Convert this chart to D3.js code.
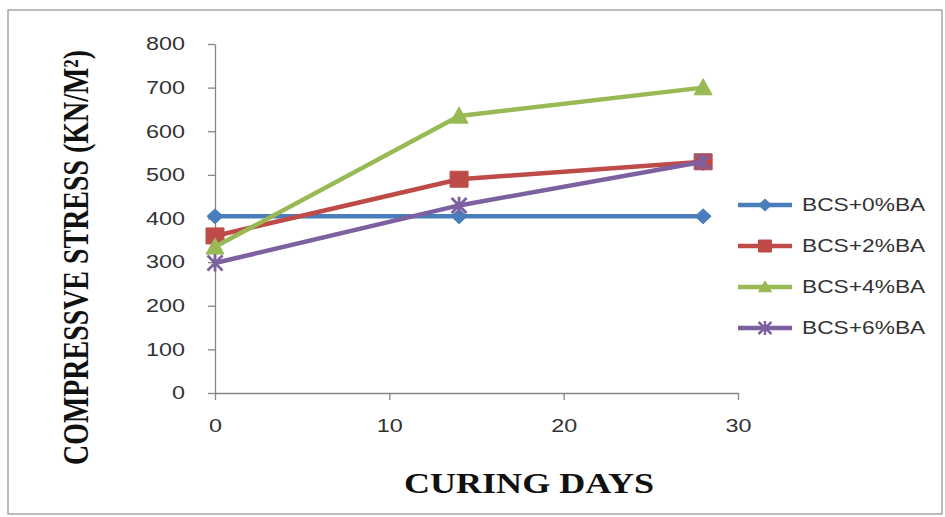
<!DOCTYPE html>
<html><head><meta charset="utf-8">
<script src="https://cdn.jsdelivr.net/npm/d3@7"></script>
<style>body{margin:0;background:#fff}svg{display:block}</style>
</head><body>
<svg id="c" width="945" height="517"></svg>
<script>
// ---- data ----
const days = [0, 14, 28];
const seriesNames = ["BCS+0%BA", "BCS+2%BA", "BCS+4%BA", "BCS+6%BA"];
const bcs0 = [405, 405, 405];
const bcs2 = [360, 490, 530];
const bcs4 = [335, 635, 700];
const bcs6 = [298, 430, 530];
const xTicks = [0, 10, 20, 30];
const yTicks = [0, 100, 200, 300, 400, 500, 600, 700, 800];
const xTitle = "CURING DAYS";
const yTitle = "COMPRESSVE STRESS (KN/M²)";

const seriesValues = [bcs0, bcs2, bcs4, bcs6];
const colors = ["#4A7EBB", "#BE4B48", "#98B954", "#7D60A0"];
const shapes = ["diamond", "square", "triangle", "star"];

const svg = d3.select("#c");
const SX = 1.3; // horizontal stretch of glyphs in the reference

svg.append("rect").attr("x", 8).attr("y", 10).attr("width", 934).attr("height", 504)
  .attr("fill", "#fff").attr("stroke", "#a6a6a6").attr("stroke-width", 1.5);

const x = d3.scaleLinear().domain([0, 30]).range([215, 738]);
const y = d3.scaleLinear().domain([0, 800]).range([393, 44]);

const axisColor = "#868686";
const labelColor = "#333";

// y axis
const gy = svg.append("g").attr("transform", `translate(${x(0)},0)`)
  .call(d3.axisLeft(y).tickValues(yTicks).tickSize(7).tickSizeOuter(0).tickFormat(d3.format("d")));
gy.selectAll("path,line").attr("stroke", axisColor).attr("stroke-width", 1.3);
gy.selectAll("text").attr("x", -30 / SX).attr("transform", `scale(${SX},1)`)
  .attr("font-family", "Liberation Sans, Arial, sans-serif").attr("font-size", 18).attr("fill", labelColor);

// x axis
const gx = svg.append("g").attr("transform", `translate(0,${y(0)})`)
  .call(d3.axisBottom(x).tickValues(xTicks).tickSize(7).tickSizeOuter(0).tickFormat(d3.format("d")));
gx.selectAll("path,line").attr("stroke", axisColor).attr("stroke-width", 1.3);
gx.selectAll("text").attr("y", 26).attr("dy", "0.71em").attr("x", 0)
  .attr("transform", `scale(${SX},1)`)
  .attr("font-family", "Liberation Sans, Arial, sans-serif").attr("font-size", 18).attr("fill", labelColor);

// custom marker shapes
function markerPath(shape, w, h) {
  const p = d3.path();
  if (shape === "diamond") {
    p.moveTo(0, -h); p.lineTo(w, 0); p.lineTo(0, h); p.lineTo(-w, 0); p.closePath();
  } else if (shape === "square") {
    p.rect(-w, -h, 2 * w, 2 * h);
  } else if (shape === "triangle") {
    p.moveTo(0, -h); p.lineTo(w, h * 0.8); p.lineTo(-w, h * 0.8); p.closePath();
  } else {
    p.moveTo(-w, -h); p.lineTo(w, h); p.moveTo(w, -h); p.lineTo(-w, h);
    p.moveTo(0, -h * 1.15); p.lineTo(0, h * 1.15);
  }
  return p.toString();
}
const markerSize = {diamond: [8, 7.5], square: [9, 8], triangle: [9, 9], star: [7.5, 7.5]};

const line = d3.line().x((d, i) => x(days[i])).y(d => y(d));

seriesValues.forEach((vals, si) => {
  const g = svg.append("g");
  g.append("path").datum(vals).attr("d", line).attr("fill", "none")
    .attr("stroke", colors[si]).attr("stroke-width", 4.5).attr("stroke-linejoin", "round");
  const sh = shapes[si];
  const [mw, mh] = markerSize[sh];
  g.selectAll("path.m").data(vals).join("path").attr("class", "m")
    .attr("transform", (d, i) => `translate(${x(days[i])},${y(d)})`)
    .attr("d", markerPath(sh, mw, mh))
    .attr("fill", sh === "star" ? "none" : colors[si])
    .attr("stroke", colors[si]).attr("stroke-width", sh === "star" ? 2.8 : 1);
});

// legend
const legY = d3.scalePoint().domain(seriesNames).range([205, 328]);
const leg = svg.append("g");
seriesNames.forEach((name, si) => {
  const yy = legY(name);
  leg.append("line").attr("x1", 738).attr("x2", 792).attr("y1", yy).attr("y2", yy)
    .attr("stroke", colors[si]).attr("stroke-width", 4.5);
  const sh = shapes[si];
  leg.append("path").attr("transform", `translate(765,${yy})`)
    .attr("d", markerPath(sh, 6.5, 6))
    .attr("fill", sh === "star" ? "none" : colors[si])
    .attr("stroke", colors[si]).attr("stroke-width", sh === "star" ? 2.4 : 1);
  leg.append("text").attr("x", 802 / SX).attr("y", yy).attr("dy", "0.36em")
    .attr("transform", `scale(${SX},1)`)
    .attr("font-family", "Liberation Sans, Arial, sans-serif").attr("font-size", 17.5)
    .attr("fill", labelColor).text(name);
});

// axis titles
svg.append("text").attr("x", 529).attr("y", 493).attr("text-anchor", "middle")
  .attr("font-family", "Liberation Serif, Times New Roman, serif").attr("font-weight", "bold")
  .attr("font-size", 30).attr("textLength", 250).attr("lengthAdjust", "spacingAndGlyphs")
  .attr("fill", "#111").text(xTitle);

svg.append("text").attr("transform", "translate(88,257.5) rotate(-90) scale(1,1.3)")
  .attr("text-anchor", "middle")
  .attr("font-family", "Liberation Serif, Times New Roman, serif").attr("font-weight", "bold")
  .attr("font-size", 27).attr("textLength", 415).attr("lengthAdjust", "spacingAndGlyphs")
  .attr("fill", "#111").text(yTitle);
</script>
</body></html>
